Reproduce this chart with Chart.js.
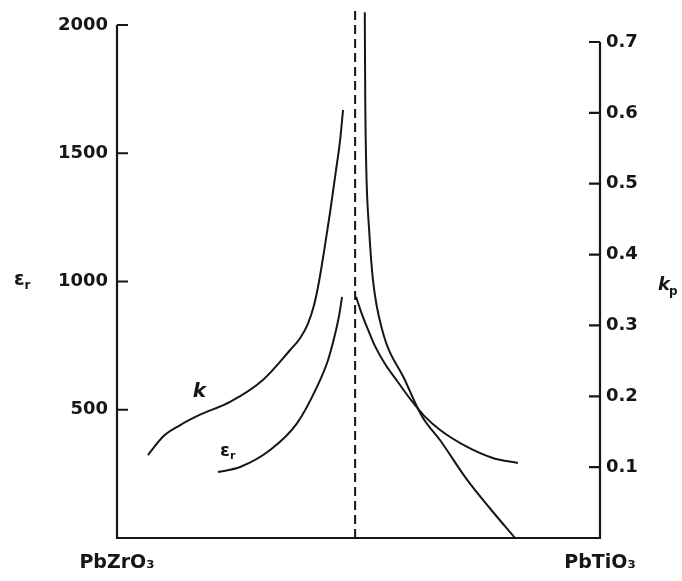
<!DOCTYPE html>
<html><head><meta charset="utf-8">
<script src="https://cdn.jsdelivr.net/npm/chart.js@4.4.1/dist/chart.umd.min.js"></script>
<style>html,body{margin:0;padding:0;background:#fff}#wrap{width:682px;height:581px;position:relative}</style>
</head><body><div id="wrap"><canvas id="c"></canvas></div>
<script>
// composition axis: 0 = PbZrO3, 100 = PbTiO3 (mol% PbTiO3)
const compositionLabels = ['PbZrO\u2083', 'PbTiO\u2083'];
const permittivityTicks = [500, 1000, 1500, 2000];
const couplingTicks = [0.1, 0.2, 0.3, 0.4, 0.5, 0.6, 0.7];

// k (right axis), rhombohedral side
const kRhombX = [6.4, 9.5, 13.0, 17.2, 23.4, 30.2, 35.8, 37.9, 39.5, 40.8, 41.8, 42.9, 44.1, 45.3, 46.2, 46.8];
const kRhombY = [0.117, 0.143, 0.159, 0.174, 0.192, 0.223, 0.265, 0.282, 0.302, 0.329, 0.361, 0.406, 0.459, 0.517, 0.562, 0.604];
// εr (left axis), rhombohedral side
const epsRhombX = [20.9, 25.5, 31.7, 37.3, 41.4, 43.7, 45.1, 46.0, 46.6];
const epsRhombY = [257, 277, 343, 448, 589, 694, 791, 869, 940];
// k (right axis), tetragonal side
const kTetX = [51.3, 51.4, 51.6, 52.2, 53.0, 54.9, 59.6, 63.2, 66.9, 72.5, 77.2, 82.4];
const kTetY = [0.742, 0.618, 0.524, 0.435, 0.364, 0.294, 0.223, 0.171, 0.138, 0.082, 0.042, 0.0];
// εr (left axis), tetragonal side
const epsTetX = [49.5, 50.7, 52.0, 53.4, 55.5, 58.0, 60.7, 63.6, 66.9, 72.5, 77.8, 83.0];
const epsTetY = [940, 873, 811, 749, 678, 612, 542, 476, 421, 355, 312, 292];
// morphotropic phase boundary (dashed)
const boundaryX = [49.3, 49.3];
const boundaryY = [0, 2058];

const FONT = "'DejaVu Sans', sans-serif";
const INK = '#161616';
const zip = (xs, ys) => xs.map((x, i) => ({x, y: ys[i]}));

function curve(data, axis, extra) {
  return Object.assign({data, yAxisID: axis, borderColor: INK, borderWidth: 2, pointRadius: 0,
    cubicInterpolationMode: 'monotone', fill: false, clip: false}, extra || {});
}

const overlay = {
  id: 'overlay',
  afterDatasetsDraw(chart) {
    const {ctx, scales: {x, yE, yK}} = chart;
    const x0 = x.getPixelForValue(0), x1 = x.getPixelForValue(100);
    const yb = yE.getPixelForValue(0);
    ctx.save();
    ctx.strokeStyle = INK; ctx.lineWidth = 2.2; ctx.lineCap = 'butt';
    ctx.beginPath();
    ctx.moveTo(x0, yE.getPixelForValue(2000)); ctx.lineTo(x0, yb); ctx.lineTo(x1, yb);
    ctx.lineTo(x1, yK.getPixelForValue(0.7));
    ctx.stroke();
    ctx.beginPath();
    permittivityTicks.forEach(v => { const p = yE.getPixelForValue(v); ctx.moveTo(x0, p); ctx.lineTo(x0 + 11, p); });
    couplingTicks.forEach(v => { const p = yK.getPixelForValue(v); ctx.moveTo(x1 - 11, p); ctx.lineTo(x1, p); });
    ctx.stroke();

    ctx.fillStyle = INK; ctx.textAlign = 'left'; ctx.textBaseline = 'alphabetic';
    function sub(main, s, px, py, mainFont, subFont, dx, dy) {
      ctx.font = mainFont; ctx.fillText(main, px, py);
      const w = ctx.measureText(main).width;
      ctx.font = subFont; ctx.fillText(s, px + w + dx, py + dy);
    }
    // axis titles
    sub('\u03b5', 'r', x0 - 103, yE.getPixelForValue(1000) + 3, 'bold 19px ' + FONT, 'bold 12px ' + FONT, 0, 4);
    sub('k', 'p', x1 + 58, yK.getPixelForValue(0.35), 'italic bold 18px ' + FONT, 'bold 12px ' + FONT, -1, 5);
    // curve labels
    ctx.font = 'italic bold 20px ' + FONT;
    ctx.fillText('k', x.getPixelForValue(15.7), yE.getPixelForValue(550));
    sub('\u03b5', 'r', x.getPixelForValue(21.3), yE.getPixelForValue(318), 'bold 18px ' + FONT, 'bold 11px ' + FONT, 0, 3);
    ctx.restore();
  }
};

new Chart(document.getElementById('c'), {
  type: 'line',
  data: {
    datasets: [
      curve(zip(kRhombX, kRhombY), 'yK'),
      curve(zip(epsRhombX, epsRhombY), 'yE'),
      curve(zip(kTetX, kTetY), 'yK'),
      curve(zip(epsTetX, epsTetY), 'yE'),
      curve(zip(boundaryX, boundaryY), 'yE', {cubicInterpolationMode: 'default', tension: 0, borderDash: [9, 5]})
    ]
  },
  options: {
    responsive: true, maintainAspectRatio: false, animation: false,
    layout: {padding: {top: 25, left: 0, right: 0, bottom: 0}},
    plugins: {legend: {display: false}, tooltip: {enabled: false}},
    scales: {
      x: {
        type: 'linear', min: 0, max: 100, position: 'bottom',
        grid: {display: false, drawTicks: false}, border: {display: false},
        afterBuildTicks: s => { s.ticks = [{value: 0}, {value: 100}]; },
        afterFit: s => { s.height = 43; },
        ticks: {autoSkip: false, maxRotation: 0, padding: 14, color: INK,
          font: {family: FONT, size: 19, weight: 'bold'},
          callback: v => v === 0 ? compositionLabels[0] : compositionLabels[1]}
      },
      yE: {
        type: 'linear', position: 'left', min: 0, max: 2000,
        grid: {display: false, drawTicks: false}, border: {display: false},
        afterBuildTicks: s => { s.ticks = permittivityTicks.map(v => ({value: v})); },
        afterFit: s => { s.width = 117; },
        ticks: {padding: 9, color: INK, font: {family: FONT, size: 18, weight: 'bold'}, callback: v => String(v)}
      },
      yK: {
        type: 'linear', position: 'right', min: 0, max: 0.724,
        grid: {display: false, drawTicks: false}, border: {display: false},
        afterBuildTicks: s => { s.ticks = couplingTicks.map(v => ({value: v})); },
        afterFit: s => { s.width = 82; },
        ticks: {padding: 6, color: INK, font: {family: FONT, size: 18, weight: 'bold'}, callback: v => v.toFixed(1)}
      }
    }
  },
  plugins: [overlay]
});
</script>
</body></html>
